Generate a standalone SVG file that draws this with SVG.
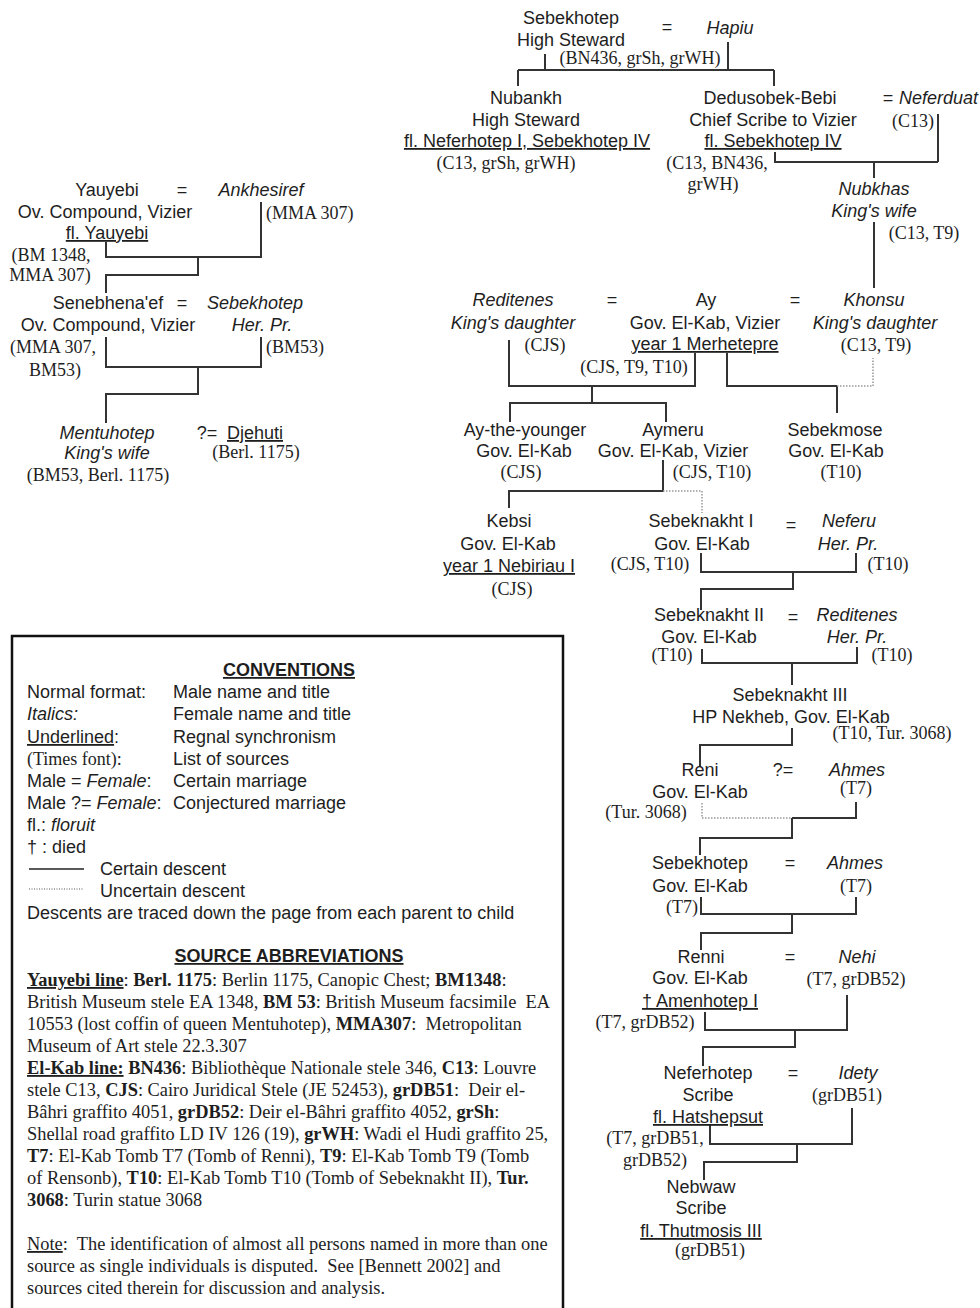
<svg xmlns="http://www.w3.org/2000/svg" width="980" height="1308" viewBox="0 0 980 1308">
<style>
text{font-family:"Liberation Sans",Arial,sans-serif;font-size:18px;fill:#1e1e1e;text-anchor:middle}
.i{font-style:italic}
.t{font-family:"Liberation Serif","Times New Roman",serif}
.u{text-decoration:underline}
.l{text-anchor:start}
.b{font-weight:bold}
.p{font-size:18.4px;white-space:pre}
.c{stroke:#333;stroke-width:2;fill:none}
.d{stroke:#999;stroke-width:1.5;stroke-dasharray:1.5 1.5;fill:none}
</style>
<rect width="980" height="1308" fill="#fff"/>

<g id="connectors">
<path class="c" d="M545,54V70M728,42V70M518,70H774M518,70V86M774,70V86"/>
<path class="c" d="M938,114V162M775,152V162H938M874,162V178M874,222V288"/>
<path class="c" d="M509,340V386H695V353M592,386V403M510,422V403H666V422"/>
<path class="c" d="M727,353V386H837M837,386V413"/>
<path class="d" d="M837,386H873V358"/>
<path class="c" d="M663,460V491H509V508"/>
<path class="d" d="M663,491H702V513"/>
<path class="c" d="M701,553V572H856V553M793,572V589H701V610"/>
<path class="c" d="M702,649V663H857V647M792,663V685"/>
<path class="c" d="M792,728V745H700V767"/>
<path class="d" d="M702,803V818H792"/>
<path class="c" d="M792,818H856V802M792,818V838H700V855"/>
<path class="c" d="M701,897V914H856V897M792,914V933H701V950"/>
<path class="c" d="M705,1012V1030H847V995M795,1030V1047H703V1066"/>
<path class="c" d="M710,1125V1144H852V1108M797,1144V1162H704V1180"/>
<path class="c" d="M106,242V257H261V202M198,257V275H106V293"/>
<path class="c" d="M106,337V367H261V337M198,367V394H106V423"/>
</g>

<g id="sebekhotep-hs">
<text x="571" y="24">Sebekhotep</text>
<text x="571" y="46">High Steward</text>
<text x="640" y="64" class="t">(BN436, grSh, grWH)</text>
<text x="667" y="33">=</text>
</g>
<g id="hapiu"><text x="730" y="34" class="i">Hapiu</text></g>

<g id="nubankh">
<text x="526" y="104">Nubankh</text>
<text x="526" y="126">High Steward</text>
<text x="527" y="147" class="u">fl. Neferhotep I, Sebekhotep IV</text>
<text x="506" y="169" class="t">(C13, grSh, grWH)</text>
</g>

<g id="dedusobek">
<text x="770" y="104">Dedusobek-Bebi</text>
<text x="773" y="126">Chief Scribe to Vizier</text>
<text x="773" y="147" class="u">fl. Sebekhotep IV</text>
<text x="717" y="169" class="t">(C13, BN436,</text>
<text x="713" y="190" class="t">grWH)</text>
<text x="888" y="104">=</text>
</g>
<g id="neferduat">
<text x="899" y="104" class="i l">Neferduat</text>
<text x="913" y="127" class="t">(C13)</text>
</g>

<g id="nubkhas">
<text x="874" y="195" class="i">Nubkhas</text>
<text x="874" y="217" class="i">King's wife</text>
<text x="924" y="239" class="t">(C13, T9)</text>
</g>

<g id="reditenes1">
<text x="513" y="306" class="i">Reditenes</text>
<text x="513" y="329" class="i">King's daughter</text>
<text x="545" y="351" class="t">(CJS)</text>
<text x="612" y="306">=</text>
</g>
<g id="ay">
<text x="706" y="306">Ay</text>
<text x="705" y="329">Gov. El-Kab, Vizier</text>
<text x="705" y="350" class="u">year 1 Merhetepre</text>
<text x="634" y="373" class="t">(CJS, T9, T10)</text>
<text x="795" y="306">=</text>
</g>
<g id="khonsu">
<text x="874" y="306" class="i">Khonsu</text>
<text x="875" y="329" class="i">King's daughter</text>
<text x="876" y="351" class="t">(C13, T9)</text>
</g>

<g id="ay-the-younger">
<text x="525" y="436">Ay-the-younger</text>
<text x="524" y="457">Gov. El-Kab</text>
<text x="521" y="478" class="t">(CJS)</text>
</g>
<g id="aymeru">
<text x="673" y="436">Aymeru</text>
<text x="673" y="457">Gov. El-Kab, Vizier</text>
<text x="712" y="478" class="t">(CJS, T10)</text>
</g>
<g id="sebekmose">
<text x="835" y="436">Sebekmose</text>
<text x="836" y="457">Gov. El-Kab</text>
<text x="841" y="478" class="t">(T10)</text>
</g>

<g id="kebsi">
<text x="509" y="527">Kebsi</text>
<text x="508" y="550">Gov. El-Kab</text>
<text x="509" y="572" class="u">year 1 Nebiriau I</text>
<text x="512" y="595" class="t">(CJS)</text>
</g>
<g id="sebeknakht1">
<text x="701" y="527">Sebeknakht I</text>
<text x="702" y="550">Gov. El-Kab</text>
<text x="650" y="570" class="t">(CJS, T10)</text>
<text x="791" y="531">=</text>
</g>
<g id="neferu">
<text x="849" y="527" class="i">Neferu</text>
<text x="848" y="550" class="i">Her. Pr.</text>
<text x="888" y="570" class="t">(T10)</text>
</g>

<g id="sebeknakht2">
<text x="709" y="621">Sebeknakht II</text>
<text x="709" y="643">Gov. El-Kab</text>
<text x="672" y="661" class="t">(T10)</text>
<text x="793" y="623">=</text>
</g>
<g id="reditenes2">
<text x="857" y="621" class="i">Reditenes</text>
<text x="857" y="643" class="i">Her. Pr.</text>
<text x="892" y="661" class="t">(T10)</text>
</g>

<g id="sebeknakht3">
<text x="790" y="701">Sebeknakht III</text>
<text x="791" y="723">HP Nekheb, Gov. El-Kab</text>
<text x="892" y="739" class="t">(T10, Tur. 3068)</text>
</g>

<g id="reni">
<text x="700" y="776">Reni</text>
<text x="700" y="798">Gov. El-Kab</text>
<text x="646" y="818" class="t">(Tur. 3068)</text>
<text x="783" y="776">?=</text>
</g>
<g id="ahmes1">
<text x="857" y="776" class="i">Ahmes</text>
<text x="856" y="794" class="t">(T7)</text>
</g>

<g id="sebekhotep-gov">
<text x="700" y="869">Sebekhotep</text>
<text x="700" y="892">Gov. El-Kab</text>
<text x="682" y="913" class="t">(T7)</text>
<text x="790" y="869">=</text>
</g>
<g id="ahmes2">
<text x="855" y="869" class="i">Ahmes</text>
<text x="856" y="892" class="t">(T7)</text>
</g>

<g id="renni">
<text x="701" y="963">Renni</text>
<text x="700" y="984">Gov. El-Kab</text>
<text x="700" y="1007" class="u">† Amenhotep I</text>
<text x="645" y="1028" class="t">(T7, grDB52)</text>
<text x="790" y="963">=</text>
</g>
<g id="nehi">
<text x="857" y="963" class="i">Nehi</text>
<text x="856" y="985" class="t">(T7, grDB52)</text>
</g>

<g id="neferhotep">
<text x="708" y="1079">Neferhotep</text>
<text x="708" y="1101">Scribe</text>
<text x="708" y="1123" class="u">fl. Hatshepsut</text>
<text x="655" y="1144" class="t">(T7, grDB51,</text>
<text x="655" y="1166" class="t">grDB52)</text>
<text x="793" y="1079">=</text>
</g>
<g id="idety">
<text x="858" y="1079" class="i">Idety</text>
<text x="847" y="1101" class="t">(grDB51)</text>
</g>

<g id="nebwaw">
<text x="701" y="1193">Nebwaw</text>
<text x="701" y="1214">Scribe</text>
<text x="701" y="1237" class="u">fl. Thutmosis III</text>
<text x="710" y="1256" class="t">(grDB51)</text>
</g>

<g id="yauyebi">
<text x="107" y="196">Yauyebi</text>
<text x="105" y="218">Ov. Compound, Vizier</text>
<text x="107" y="239" class="u">fl. Yauyebi</text>
<text x="51" y="261" class="t">(BM 1348,</text>
<text x="50" y="281" class="t">MMA 307)</text>
<text x="182" y="196">=</text>
</g>
<g id="ankhesiref">
<text x="261" y="196" class="i">Ankhesiref</text>
<text x="266" y="219" class="t l">(MMA 307)</text>
</g>

<g id="senebhenaef">
<text x="108" y="309">Senebhena'ef</text>
<text x="108" y="331">Ov. Compound, Vizier</text>
<text x="53" y="353" class="t">(MMA 307,</text>
<text x="55" y="376" class="t">BM53)</text>
<text x="182" y="309">=</text>
</g>
<g id="sebekhotep-hp">
<text x="255" y="309" class="i">Sebekhotep</text>
<text x="262" y="331" class="i">Her. Pr.</text>
<text x="266" y="353" class="t l">(BM53)</text>
</g>

<g id="mentuhotep">
<text x="107" y="439" class="i">Mentuhotep</text>
<text x="107" y="459" class="i">King's wife</text>
<text x="98" y="481" class="t">(BM53, Berl. 1175)</text>
<text x="207" y="439">?=</text>
</g>
<g id="djehuti">
<text x="255" y="439" class="u">Djehuti</text>
<text x="256" y="458" class="t">(Berl. 1175)</text>
</g>

<g id="legend">
<path d="M12,1312V636H563V1312" fill="none" stroke="#111" stroke-width="2.5"/>
<text x="289" y="676" class="b u">CONVENTIONS</text>
<text x="27" y="698" class="l">Normal format:</text>
<text x="173" y="698" class="l">Male name and title</text>
<text x="27" y="720" class="l i">Italics:</text>
<text x="173" y="720" class="l">Female name and title</text>
<text x="27" y="743" class="l"><tspan class="u">Underlined</tspan>:</text>
<text x="173" y="743" class="l">Regnal synchronism</text>
<text x="27" y="765" class="l t">(Times font):</text>
<text x="173" y="765" class="l">List of sources</text>
<text x="27" y="787" class="l">Male = <tspan class="i">Female</tspan>:</text>
<text x="173" y="787" class="l">Certain marriage</text>
<text x="27" y="809" class="l">Male ?= <tspan class="i">Female</tspan>:</text>
<text x="173" y="809" class="l">Conjectured marriage</text>
<text x="27" y="831" class="l">fl.: <tspan class="i">floruit</tspan></text>
<text x="27" y="853" class="l">† : died</text>
<path d="M29,869H84" stroke="#222" stroke-width="1.5"/>
<text x="100" y="875" class="l">Certain descent</text>
<path d="M29,889H84" stroke="#555" stroke-width="1.2" stroke-dasharray="1 1.5"/>
<text x="100" y="897" class="l">Uncertain descent</text>
<text x="27" y="919" class="l">Descents are traced down the page from each parent to child</text>

<text x="289" y="962" class="b u">SOURCE ABBREVIATIONS</text>
<text x="27" y="986" class="l t p"><tspan class="b u">Yauyebi line</tspan>: <tspan class="b">Berl. 1175</tspan>: Berlin 1175, Canopic Chest; <tspan class="b">BM1348</tspan>:</text>
<text x="27" y="1008" class="l t p">British Museum stele EA 1348, <tspan class="b">BM 53</tspan>: British Museum facsimile  EA</text>
<text x="27" y="1030" class="l t p">10553 (lost coffin of queen Mentuhotep), <tspan class="b">MMA307</tspan>:  Metropolitan</text>
<text x="27" y="1052" class="l t p">Museum of Art stele 22.3.307</text>
<text x="27" y="1074" class="l t p"><tspan class="b u">El-Kab line:</tspan> <tspan class="b">BN436</tspan>: Bibliothèque Nationale stele 346, <tspan class="b">C13</tspan>: Louvre</text>
<text x="27" y="1096" class="l t p">stele C13, <tspan class="b">CJS</tspan>: Cairo Juridical Stele (JE 52453), <tspan class="b">grDB51</tspan>:  Deir el-</text>
<text x="27" y="1118" class="l t p">Bâhri graffito 4051, <tspan class="b">grDB52</tspan>: Deir el-Bâhri graffito 4052, <tspan class="b">grSh</tspan>:</text>
<text x="27" y="1140" class="l t p">Shellal road graffito LD IV 126 (19), <tspan class="b">grWH</tspan>: Wadi el Hudi graffito 25,</text>
<text x="27" y="1162" class="l t p"><tspan class="b">T7</tspan>: El-Kab Tomb T7 (Tomb of Renni), <tspan class="b">T9</tspan>: El-Kab Tomb T9 (Tomb</text>
<text x="27" y="1184" class="l t p">of Rensonb), <tspan class="b">T10</tspan>: El-Kab Tomb T10 (Tomb of Sebeknakht II), <tspan class="b">Tur.</tspan></text>
<text x="27" y="1206" class="l t p"><tspan class="b">3068</tspan>: Turin statue 3068</text>
<text x="27" y="1250" class="l t p"><tspan class="u">Note</tspan>:  The identification of almost all persons named in more than one</text>
<text x="27" y="1272" class="l t p">source as single individuals is disputed.  See [Bennett 2002] and</text>
<text x="27" y="1294" class="l t p">sources cited therein for discussion and analysis.</text>
</g>
</svg>
